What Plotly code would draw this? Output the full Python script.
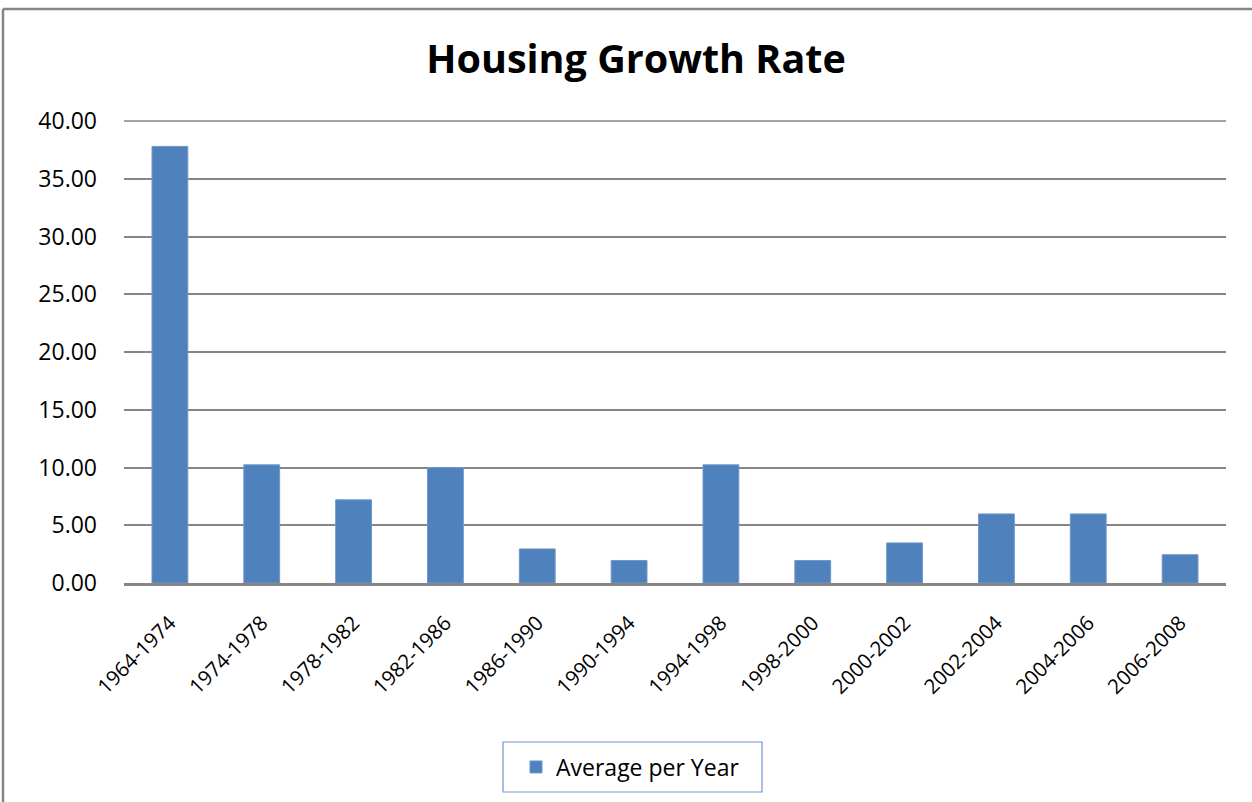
import plotly.graph_objects as go

categories = ["1964-1974", "1974-1978", "1978-1982", "1982-1986", "1986-1990", "1990-1994",
              "1994-1998", "1998-2000", "2000-2002", "2002-2004", "2004-2006", "2006-2008"]
values = [37.8, 10.23, 7.2, 9.98, 2.95, 1.95, 10.23, 1.95, 3.47, 5.98, 5.98, 2.45]
series_name = "Average per Year"
y_ticks = [0, 5, 10, 15, 20, 25, 30, 35, 40]

W, H = 1252, 802
L, R, T, B = 124, 26, 121, 219
pw, ph = W - L - R, H - T - B

def px_x(x):
    return (x - L) / pw

def px_y(y):
    return (H - B - y) / ph

FONT = "Open Sans"

fig = go.Figure()
fig.add_trace(go.Bar(
    x=categories, y=values, name=series_name,
    marker=dict(color="#4F81BD", line=dict(color="#6E97CB", width=1)),
    width=0.39, showlegend=True,
))

fig.update_layout(
    width=W, height=H,
    margin=dict(l=L, r=R, t=T, b=B, autoexpand=False),
    paper_bgcolor="white", plot_bgcolor="white",
    title=dict(text="<b>Housing Growth Rate</b>", xref="container", x=636 / W, xanchor="center",
               y=1 - 59 / H, yanchor="middle",
               font=dict(family=FONT, size=39.5, color="black")),
    font=dict(family=FONT, color="black"),
    showlegend=True,
    legend=dict(orientation="h", x=px_x(516), xanchor="left", y=px_y(767), yanchor="middle",
                borderwidth=0, bgcolor="rgba(0,0,0,0)",
                font=dict(family=FONT, size=23, color="black"),
                itemwidth=30, tracegroupgap=0),
    bargap=0.61,
)
fig.update_xaxes(
    type="category", tickangle=-45, showgrid=False, showline=True,
    linecolor="#868686", linewidth=2.5, ticks="",
    ticklabelstandoff=17,
    tickfont=dict(family=FONT, size=20.5, color="black"),
)
fig.update_yaxes(
    range=[0, 40], tickvals=y_ticks, tickformat=".2f", showgrid=True,
    gridcolor="#868686", gridwidth=1.5, showline=False, zeroline=False, ticks="",
    ticklabelstandoff=26,
    tickfont=dict(family=FONT, size=23, color="black"),
)

# top gridline at the range edge (the axis range ends at the last tick)
fig.add_shape(type="line", xref="paper", yref="paper", x0=0, x1=1, y0=1, y1=1,
              line=dict(color="#868686", width=1.5), layer="below")

# legend frame
fig.add_shape(type="rect", xref="paper", yref="paper",
              x0=px_x(503), x1=px_x(762), y0=px_y(742), y1=px_y(792),
              line=dict(color="#6E97CB", width=1.2), fillcolor="rgba(0,0,0,0)")

# outer chart border (top and left edges visible)
fig.add_shape(type="line", xref="paper", yref="paper",
              x0=px_x(3), x1=px_x(W + 5), y0=px_y(9), y1=px_y(9),
              line=dict(color="#868686", width=2.5))
fig.add_shape(type="line", xref="paper", yref="paper",
              x0=px_x(3), x1=px_x(3), y0=px_y(9), y1=px_y(H + 5),
              line=dict(color="#868686", width=2.5))

fig.write_html("out.html", config={"displayModeBar": False},
               post_script="document.body.style.margin='0';document.body.style.overflow='hidden';")
